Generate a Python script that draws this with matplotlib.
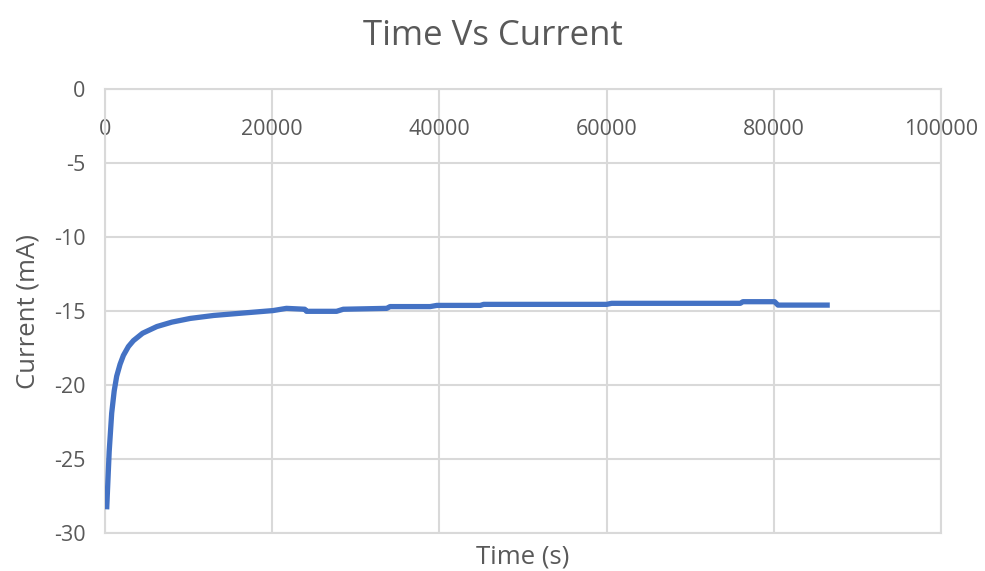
import matplotlib
matplotlib.use('Agg')
import matplotlib.pyplot as plt

# Logged current against elapsed time
time_s = [200, 500, 800, 1100, 1400, 1800, 2200, 2800, 3400, 4500, 6200,
          8000, 10200, 13000, 16200, 20100, 21700, 23900, 24100, 27700,
          28500, 33700, 34100, 38900, 39700, 44900, 45300, 60000, 60600,
          76000, 76300, 80100, 80500, 86700]
current_ma = [-28.4, -24.5, -21.9, -20.4, -19.4, -18.6, -18.0, -17.4, -17.0,
              -16.5, -16.05, -15.75, -15.5, -15.3, -15.15, -14.97, -14.82,
              -14.88, -15.02, -15.02, -14.88, -14.82, -14.7, -14.7, -14.62,
              -14.62, -14.55, -14.55, -14.48, -14.48, -14.37, -14.37, -14.6,
              -14.6]

x_ticks = [0, 20000, 40000, 60000, 80000, 100000]
y_ticks = [0, -5, -10, -15, -20, -25, -30]

TEXT = '#595959'
GRID = '#D9D9D9'
LINE = '#4472C4'

plt.rcParams['font.family'] = ['Open Sans', 'DejaVu Sans']

fig = plt.figure(figsize=(9.85, 5.71), dpi=100)
ax = fig.add_axes([0.1066, 0.0665, 0.8487, 0.7776])

ax.plot(time_s, current_ma, '-', color=LINE, linewidth=3.8,
        solid_capstyle='butt', zorder=3)

ax.set_xlim(0, 100000)
ax.set_ylim(-30, 0)
ax.set_xticks(x_ticks)
ax.set_yticks(y_ticks)
ax.set_xticklabels([str(v) for v in x_ticks])
ax.set_yticklabels([str(v) for v in y_ticks])

# x axis crosses at zero (top), labels hang just below it
ax.xaxis.set_ticks_position('top')
ax.tick_params(axis='x', length=0, labelsize=15.5, labelcolor=TEXT, pad=-36.5)
ax.tick_params(axis='y', length=0, labelsize=15.5, labelcolor=TEXT, pad=14)
ax.xaxis.set_label_position('bottom')

ax.grid(True, color=GRID, linewidth=1.5, zorder=0)
for side in ax.spines.values():
    side.set_color(GRID)
    side.set_linewidth(1.5)

ax.set_xlabel('Time (s)', fontsize=18.5, color=TEXT, labelpad=8)
ax.set_ylabel('Current (mA)', fontsize=18.5, color=TEXT, labelpad=10)
fig.suptitle('Time Vs Current', fontsize=25, color=TEXT, y=0.967)

fig.savefig('out.png', dpi=100)
plt.close(fig)
